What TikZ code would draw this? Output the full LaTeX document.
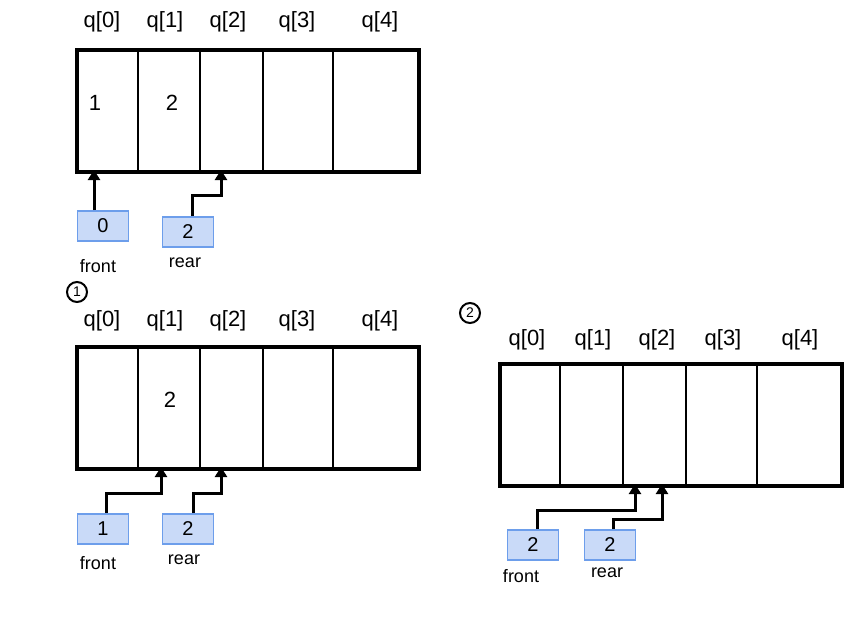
\documentclass[tikz,border=0pt]{standalone}
\usepackage{fontspec}
\setmainfont{Liberation Sans}
\usetikzlibrary{arrows.meta}
\definecolor{boxfill}{HTML}{C9DAF8}
\definecolor{boxline}{HTML}{6D9EEB}
\begin{document}
\begin{tikzpicture}[x=1pt,y=-1pt,
  arrbox/.style={draw=black, line width=3.5pt, rectangle, minimum width=342pt, minimum height=122pt, inner sep=0pt, anchor=north west},
  div/.style={line width=2.2pt},
  idx/.style={font=\fontsize{22}{22}\selectfont},
  val/.style={font=\fontsize{22}{22}\selectfont},
  ptrbox/.style={draw=boxline, fill=boxfill, line width=1.8pt, minimum width=51pt, minimum height=30pt, inner sep=0pt, font=\fontsize{20}{20}\selectfont},
  ptrlbl/.style={font=\fontsize{18}{18}\selectfont},
  link/.style={line width=3pt, -{Triangle[width=12pt,length=10pt]}},
  circ/.style={draw, circle, line width=2pt, inner sep=0pt, minimum size=20pt, font=\fontsize{14}{14}\selectfont}
]
\useasboundingbox (0,0) rectangle (856,624);

% ---------- Array 1 ----------
\node[arrbox] (A1) at (75,48) {};
\foreach \dx in {63,125,188,258} \draw[div] (75+\dx,48) -- (75+\dx,170);
\node[idx] (a1l0) at (102,22) {q[0]};
\node[idx] (a1l1) at (165,22) {q[1]};
\node[idx] (a1l2) at (228,22) {q[2]};
\node[idx] (a1l3) at (297,22) {q[3]};
\node[idx] (a1l4) at (380,22) {q[4]};
\node[val] (a1v0) at (95,103) {1};
\node[val] (a1v1) at (172,103) {2};
\coordinate (a1f) at (94,170);
\coordinate (a1r) at (221,170);
\node[ptrbox] (f1) at (103,226) {0};
\node[ptrbox] (r1) at (188,232) {2};
\node[ptrlbl] (f1l) at (98,266) {front};
\node[ptrlbl] (r1l) at (185,263) {rear};
\draw[link] ([xshift=-9pt]f1.north) -- (a1f);
\draw[link] ([xshift=4pt]r1.north) |- (207,195) -| (a1r);

% ---------- Circled labels ----------
\node[circ] (c1) at (77,292) {1};
\node[circ] (c2) at (470,313) {2};

% ---------- Array 2 ----------
\node[arrbox] (A2) at (75,345) {};
\foreach \dx in {63,125,188,258} \draw[div] (75+\dx,345) -- (75+\dx,467);
\node[idx] (a2l0) at (102,321) {q[0]};
\node[idx] (a2l1) at (165,321) {q[1]};
\node[idx] (a2l2) at (228,321) {q[2]};
\node[idx] (a2l3) at (297,321) {q[3]};
\node[idx] (a2l4) at (380,321) {q[4]};
\node[val] (a2v1) at (170,400) {2};
\coordinate (a2f) at (161,467);
\coordinate (a2r) at (221,467);
\node[ptrbox] (f2) at (103,529) {1};
\node[ptrbox] (r2) at (188,529) {2};
\node[ptrlbl] (f2l) at (98,563) {front};
\node[ptrlbl] (r2l) at (184,560) {rear};
\draw[link] ([xshift=3pt]f2.north) |- (130,493) -| (a2f);
\draw[link] ([xshift=5pt]r2.north) |- (207,493) -| (a2r);

% ---------- Array 3 ----------
\node[arrbox] (A3) at (498,362) {};
\foreach \dx in {62,125,188,259} \draw[div] (498+\dx,362) -- (498+\dx,484);
\node[idx] (a3l0) at (527,340) {q[0]};
\node[idx] (a3l1) at (593,340) {q[1]};
\node[idx] (a3l2) at (657,340) {q[2]};
\node[idx] (a3l3) at (723,340) {q[3]};
\node[idx] (a3l4) at (800,340) {q[4]};
\coordinate (a3f) at (635,484);
\coordinate (a3r) at (662,484);
\node[ptrbox] (f3) at (533,545) {2};
\node[ptrbox] (r3) at (610,545) {2};
\node[ptrlbl] (f3l) at (521,576) {front};
\node[ptrlbl] (r3l) at (607,573) {rear};
\draw[link] ([xshift=4pt]f3.north) |- (600,510) -| (a3f);
\draw[link] ([xshift=3pt]r3.north) |- (640,519) -| (a3r);
\end{tikzpicture}
\end{document}
